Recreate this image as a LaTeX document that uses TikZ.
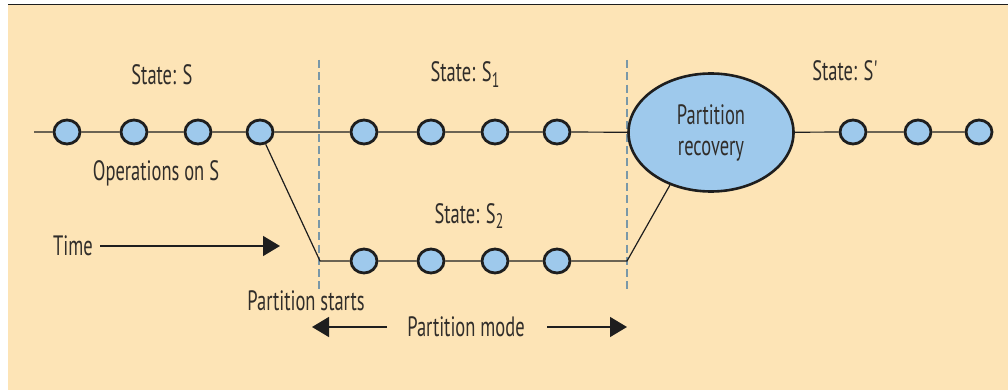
\documentclass[tikz,border=0pt]{standalone}
\usepackage{fontspec}
\setmainfont[FakeStretch=0.66]{PT Sans}
\usetikzlibrary{arrows.meta,shapes.geometric}

\definecolor{cream}{RGB}{253,228,182}
\definecolor{opblue}{RGB}{158,201,236}
\definecolor{ink}{RGB}{30,30,30}
\definecolor{txt}{RGB}{48,45,42}
\definecolor{divider}{RGB}{122,152,168}

\newcommand{\subidx}[1]{\raisebox{-0.2em}{\fontsize{21}{22}\selectfont #1}}

\begin{document}
\begin{tikzpicture}[x=1pt,y=-1pt,
  op/.style={ellipse, draw=ink, fill=opblue, line width=2.8pt,
    inner sep=0pt, minimum width=26pt, minimum height=24pt},
  recov/.style={ellipse, draw=ink, fill=opblue, line width=2.6pt,
    inner sep=0pt, minimum width=165pt, minimum height=118pt,
    align=center, text=txt, font=\fontsize{28}{31}\selectfont},
  lbl/.style={text=txt, font=\fontsize{28}{30}\selectfont, inner sep=0pt, anchor=base},
  wire/.style={draw=ink, line width=1.2pt},
  phase/.style={draw=divider, line width=2.2pt, dash pattern=on 8pt off 4.3pt},
  timearrow/.style={draw=ink, line width=1.5pt, -{Triangle[length=17pt,width=20pt]}}]

\useasboundingbox (0,0) rectangle (1008,390);
\fill[white] (0,0) rectangle (1008,390);
\fill[cream] (8,5) rectangle (1008,390);
\draw[ink, line width=1.7pt] (8,4.6) -- (1008,4.6);

% phase boundaries
\coordinate (p1top) at (319,60);  \coordinate (p1bot) at (319,290);
\coordinate (p2top) at (627,60);  \coordinate (p2bot) at (627,290);
\draw[phase] (p1top) -- (p1bot);
\draw[phase] (p2top) -- (p2bot);

% operations
\node[op] (a1) at (67,132) {};
\node[op] (a2) at (134,132) {};
\node[op] (a3) at (198,132) {};
\node[op] (a4) at (260,132) {};
\node[op] (b1) at (364,132) {};
\node[op] (b2) at (431,132) {};
\node[op] (b3) at (495,132) {};
\node[op] (b4) at (557,132) {};
\node[op] (c1) at (364,261) {};
\node[op] (c2) at (431,261) {};
\node[op] (c3) at (495,261) {};
\node[op] (c4) at (557,261) {};
\node[recov] (rec) at (711,132.5) {Partition\\recovery};
\node[op] (d1) at (853,132) {};
\node[op] (d2) at (918,132) {};
\node[op] (d3) at (979,132) {};

\coordinate (start) at (34,132);
\coordinate (split) at (320,261);
\coordinate (join) at (627,261);

% timelines
\draw[wire] (start) -- (a1) -- (a2) -- (a3) -- (a4) -- (b1) -- (b2) -- (b3) -- (b4) -- (rec);
\draw[wire] (rec) -- (d1) -- (d2) -- (d3);
\draw[wire] (a4) -- (split) -- (c1) -- (c2) -- (c3) -- (c4) -- (join) -- (rec.232);

% labels
\node[lbl] (ls) at (162,85) {State: S};
\node[lbl] (ls1) at (465,82) {State: S\subidx{1}};
\node[lbl] (lsp) at (846,81) {State: S\textquotesingle};
\node[lbl] (ops) at (156,180) {Operations on S};
\node[lbl] (ls2) at (469,223) {State: S\subidx{2}};
\node[lbl, anchor=base west] (time) at (53,255) {Time};
\node[lbl] (pstart) at (306,310) {Partition starts};
\node[lbl] (pmode) at (466,336) {Partition mode};

% arrows
\coordinate (t0) at (100,246);   \coordinate (t1) at (280,246);
\coordinate (m0) at (387,327);   \coordinate (m1) at (312,327);
\coordinate (m2) at (547,327);   \coordinate (m3) at (627,327);
\draw[timearrow] (t0) -- (t1);
\draw[timearrow] (m0) -- (m1);
\draw[timearrow] (m2) -- (m3);
\end{tikzpicture}
\end{document}
